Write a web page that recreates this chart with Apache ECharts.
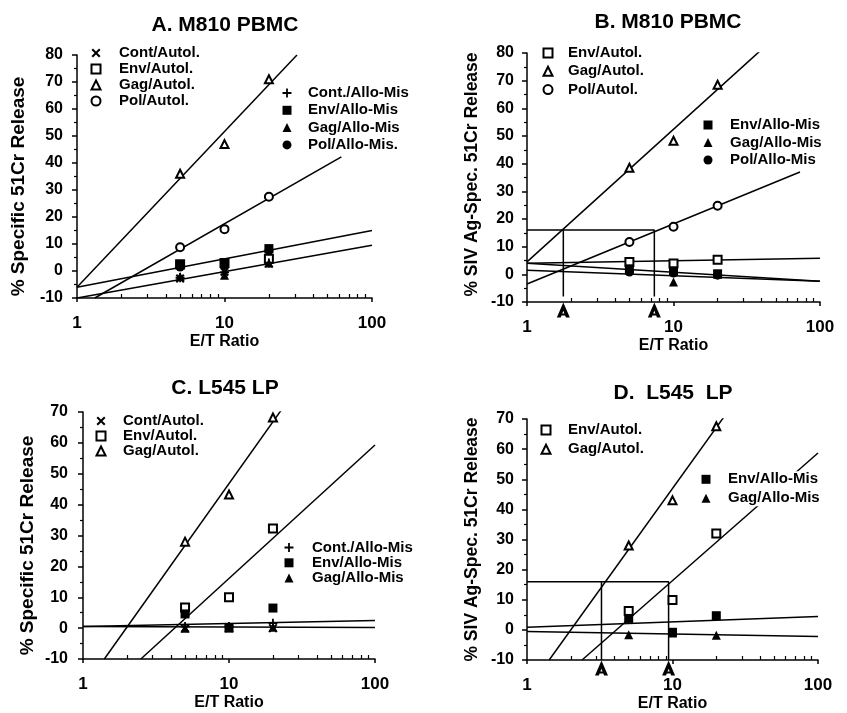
<!DOCTYPE html>
<html><head><meta charset="utf-8">
<script src="https://cdn.jsdelivr.net/npm/echarts@6/dist/echarts.min.js"></script>
<style>html,body{margin:0;padding:0;background:#fff}#c{width:847px;height:713px}</style>
</head><body><div id="c"></div>
<script>
// ---------- data ----------
const xRatios = [5, 10, 20];
const xMajorTicks = [1, 10, 100];
const xMinorTicks = [2,3,4,5,6,7,8,9,20,30,40,50,60,70,80,90];

const titles = ['A. M810 PBMC', 'B. M810 PBMC', 'C. L545 LP', 'D.  L545  LP'];
const yNameSpecific = '% Specific 51Cr Release';
const yNameSIV = '% SIV Ag-Spec. 51Cr Release';
const xName = 'E/T Ratio';

// Panel A
const A_contAutol = [-2.8, -0.3, 2.8];
const A_envAutol  = [2.5, 3.0, 4.5];
const A_gagAutol  = [36.0, 47.0, 71.0];
const A_polAutol  = [8.8, 15.5, 27.5];
const A_contAllo  = [-2.5, -0.5, 3.0];
const A_envAllo   = [2.2, 2.8, 8.3];
const A_gagAllo   = [-2.0, -1.6, 3.0];
const A_polAllo   = [1.5, 2.2, 7.5];
const A_fitGag  = [[1, -6], [31, 80]];
const A_fitPol  = [[1.32, -10], [62, 42.3]];
const A_fitEnv  = [[1, -6], [100, 15]];
const A_fitCont = [[1, -10], [100, 9.5]];

// Panel B
const B_envAutol = [4.5, 3.9, 5.3];
const B_gagAutol = [38.5, 48.3, 68.5];
const B_polAutol = [11.7, 17.2, 24.8];
const B_envAllo  = [2.0, 1.2, 0.2];
const B_gagAllo  = [1.5, -2.8, 0.0];
const B_polAllo  = [0.8, 0.5, -0.3];
const B_fitGag   = [[1, 4.5], [38.5, 80.5]];
const B_fitPol   = [[1, -3.5], [73, 37]];
const B_fitEnvAutol = [[1, 4], [100, 5.8]];
const B_fitEnvAllo  = [[1, 4], [100, -2.5]];
const B_fitPolAllo  = [[1, 1.5], [100, -2.5]];
const B_refLevel = 16;
const B_arrowX = [1.77, 7.4];
const B_refBottom = -8;

// Panel C
const C_contAutol = [0.0, 0.0, 0.0];
const C_envAutol  = [6.7, 10.0, 32.3];
const C_gagAutol  = [28.0, 43.3, 68.2];
const C_contAllo  = [0.5, 0.5, 1.6];
const C_envAllo   = [4.6, 0.0, 6.5];
const C_gagAllo   = [0.0, 0.3, 0.3];
const C_fitGag  = [[1.4, -10], [22.7, 70.5]];
const C_fitEnv  = [[2.49, -10], [100, 59.3]];
const C_fitFlat1 = [[1, 0.5], [100, 2.5]];
const C_fitFlat2 = [[1, 0.5], [100, 0.2]];

// Panel D
const D_envAutol = [6.3, 9.9, 32.0];
const D_gagAutol = [28.0, 43.0, 67.6];
const D_envAllo  = [3.8, -0.8, 4.7];
const D_gagAllo  = [-1.6, -1.0, -1.8];
const D_fitGag   = [[1.42, -10], [22.5, 70.6]];
const D_fitEnv   = [[2.39, -10], [100, 58.7]];
const D_fitEnvAllo = [[1, 0.9], [100, 4.4]];
const D_fitGagAllo = [[1, -0.5], [100, -2.2]];
const D_refLevel = 16;
const D_arrowX = [3.25, 9.4];
const D_refBottom = -10;

// ---------- styling ----------
const FONT = '"Liberation Sans", Arial, Helvetica, sans-serif';
const SYM_X = 'path://M0,1.6L1.6,0L5,3.4L8.4,0L10,1.6L6.6,5L10,8.4L8.4,10L5,6.6L1.6,10L0,8.4L3.4,5Z';
const SYM_PLUS = 'path://M4,0H6V4H10V6H6V10H4V6H0V4H4Z';
const SYM_ARROW = 'path://M6,0L12,14L8.4,14L6,7.8L3.6,14L0,14Z M2.8,10.2L9.2,10.2L9.2,12.2L2.8,12.2Z';

const grids = [
  {left: 77, top: 55, width: 295, height: 243},
  {left: 527, top: 53, width: 293, height: 249},
  {left: 83, top: 412, width: 292, height: 247},
  {left: 527, top: 419, width: 291, height: 246}
];
const yMax = [80, 80, 70, 70];
const yNames = [yNameSpecific, yNameSIV, yNameSpecific, yNameSIV];
const yNameSizes = [19, 17.5, 19, 17.5];
const yNameGaps = [49, 46, 46, 46];
const yNamePads = [[0, 20, 0, 0], [0, 0, 0, 6], [0, 20, 0, 0], [0, 0, 0, 0]];
const yLabelMargins = [14, 13, 15, 13];
const titlePos = [[225, 15], [668, 12], [225, 378], [673, 383]];

const xAxes = [], yAxes = [];
grids.forEach((g, i) => {
  xAxes.push({
    type: 'log', logBase: 10, gridIndex: i, min: 1, max: 100, position: 'bottom',
    name: xName, nameLocation: 'middle', nameGap: 36,
    nameTextStyle: {fontFamily: FONT, fontWeight: 'bold', fontSize: 16, color: '#000'},
    axisLine: {show: true, onZero: false, lineStyle: {color: '#000', width: 1.5}},
    axisTick: {show: true, inside: false, length: 4, lineStyle: {color: '#000', width: 1.5}, customValues: xMajorTicks},
    axisLabel: {show: true, margin: 17, fontFamily: FONT, fontWeight: 'bold', fontSize: 17, color: '#000', customValues: xMajorTicks},
    splitLine: {show: false}, minorTick: {show: false}
  });
  xAxes.push({
    type: 'log', logBase: 10, gridIndex: i, min: 1, max: 100, position: 'bottom',
    axisLine: {show: false, onZero: false},
    axisTick: {show: true, inside: true, length: 4, lineStyle: {color: '#000', width: 1.2}, customValues: xMinorTicks},
    axisLabel: {show: false}, splitLine: {show: false}
  });
  yAxes.push({
    type: 'value', gridIndex: i, min: -10, max: yMax[i], interval: 10,
    name: yNames[i], nameLocation: 'middle', nameGap: yNameGaps[i],
    nameTextStyle: {fontFamily: FONT, fontWeight: 'bold', fontSize: yNameSizes[i], color: '#000', padding: yNamePads[i]},
    axisLine: {show: true, onZero: false, lineStyle: {color: '#000', width: 1.5}},
    axisTick: {show: true, inside: false, length: 5, lineStyle: {color: '#000', width: 1.5}},
    minorTick: {show: true, splitNumber: 2, length: 3, lineStyle: {color: '#000', width: 1.2}},
    axisLabel: {margin: yLabelMargins[i], fontFamily: FONT, fontWeight: 'bold', fontSize: 16, color: '#000'},
    splitLine: {show: false}, minorSplitLine: {show: false}
  });
});

function pts(ys) { return xRatios.map((x, i) => [x, ys[i]]); }
function sc(name, g, ys, symbol) {
  const empty = symbol.indexOf('empty') === 0;
  return {
    type: 'scatter', name, xAxisIndex: g * 2, yAxisIndex: g, data: pts(ys),
    symbol, symbolSize: empty ? 8 : 9, z: 4,
    itemStyle: {color: '#000', borderColor: '#000', borderWidth: empty ? 2 : 0, opacity: 1},
    emphasis: {disabled: true}, silent: true
  };
}
function ln(g, data) {
  return {
    type: 'line', name: '_fit', xAxisIndex: g * 2, yAxisIndex: g, data,
    symbol: 'none', showSymbol: false, lineStyle: {color: '#000', width: 1.5}, z: 2,
    emphasis: {disabled: true}, silent: true, animation: false
  };
}
function arrows(g, xs) {
  return {
    type: 'scatter', name: '_arrow', xAxisIndex: g * 2, yAxisIndex: g,
    data: xs.map(x => [x, -10]), symbol: SYM_ARROW, symbolSize: [13, 15], symbolOffset: [0, 8],
    clip: false, itemStyle: {color: '#000', opacity: 1}, z: 5, silent: true
  };
}

const series = [
  // A
  ln(0, A_fitGag), ln(0, A_fitPol), ln(0, A_fitEnv), ln(0, A_fitCont),
  sc('Cont/Autol.', 0, A_contAutol, SYM_X),
  sc('Env/Autol.', 0, A_envAutol, 'emptyRect'),
  sc('Gag/Autol.', 0, A_gagAutol, 'emptyTriangle'),
  sc('Pol/Autol.', 0, A_polAutol, 'emptyCircle'),
  sc('Cont./Allo-Mis', 0, A_contAllo, SYM_PLUS),
  sc('Env/Allo-Mis', 0, A_envAllo, 'rect'),
  sc('Gag/Allo-Mis', 0, A_gagAllo, 'triangle'),
  sc('Pol/Allo-Mis.', 0, A_polAllo, 'circle'),
  // B
  ln(1, B_fitGag), ln(1, B_fitPol), ln(1, B_fitEnvAutol), ln(1, B_fitEnvAllo), ln(1, B_fitPolAllo),
  ln(1, [[1, B_refLevel], [B_arrowX[1], B_refLevel], [B_arrowX[1], B_refBottom]]),
  ln(1, [[B_arrowX[0], B_refLevel], [B_arrowX[0], B_refBottom]]),
  sc('Env/Autol.', 1, B_envAutol, 'emptyRect'),
  sc('Gag/Autol.', 1, B_gagAutol, 'emptyTriangle'),
  sc('Pol/Autol.', 1, B_polAutol, 'emptyCircle'),
  sc('Env/Allo-Mis', 1, B_envAllo, 'rect'),
  sc('Gag/Allo-Mis', 1, B_gagAllo, 'triangle'),
  sc('Pol/Allo-Mis', 1, B_polAllo, 'circle'),
  arrows(1, B_arrowX),
  // C
  ln(2, C_fitGag), ln(2, C_fitEnv), ln(2, C_fitFlat1), ln(2, C_fitFlat2),
  sc('Cont/Autol.', 2, C_contAutol, SYM_X),
  sc('Env/Autol.', 2, C_envAutol, 'emptyRect'),
  sc('Gag/Autol.', 2, C_gagAutol, 'emptyTriangle'),
  sc('Cont./Allo-Mis', 2, C_contAllo, SYM_PLUS),
  sc('Env/Allo-Mis', 2, C_envAllo, 'rect'),
  sc('Gag/Allo-Mis', 2, C_gagAllo, 'triangle'),
  // D
  ln(3, D_fitGag), ln(3, D_fitEnv), ln(3, D_fitEnvAllo), ln(3, D_fitGagAllo),
  ln(3, [[1, D_refLevel], [D_arrowX[1], D_refLevel], [D_arrowX[1], D_refBottom]]),
  ln(3, [[D_arrowX[0], D_refLevel], [D_arrowX[0], D_refBottom]]),
  sc('Env/Autol.', 3, D_envAutol, 'emptyRect'),
  sc('Gag/Autol.', 3, D_gagAutol, 'emptyTriangle'),
  sc('Env/Allo-Mis', 3, D_envAllo, 'rect'),
  sc('Gag/Allo-Mis', 3, D_gagAllo, 'triangle'),
  arrows(3, D_arrowX)
];

function legend(names, left, top, pad, lh, gap, bg) {
  return {
    data: names, orient: 'vertical', left, top, padding: 0, itemGap: gap,
    itemWidth: 9, itemHeight: 9, selectedMode: false, backgroundColor: bg || 'transparent',
    textStyle: {fontFamily: FONT, fontWeight: 'bold', fontSize: 15, color: '#000', lineHeight: lh, padding: [0, 0, 0, pad]}
  };
}
const legends = [
  legend(['Cont/Autol.', 'Env/Autol.', 'Gag/Autol.', 'Pol/Autol.'], 90.5, 45, 13.5, 16, 0),
  legend(['Cont./Allo-Mis', 'Env/Allo-Mis', 'Gag/Allo-Mis', 'Pol/Allo-Mis.'], 282.5, 85, 11.5, 16, 1.3),
  legend(['Env/Autol.', 'Gag/Autol.', 'Pol/Autol.'], 542.5, 45, 10.5, 16, 2.3),
  legend(['Env/Allo-Mis', 'Gag/Allo-Mis', 'Pol/Allo-Mis'], 703.5, 117, 12.5, 16, 1.5),
  legend(['Cont/Autol.', 'Env/Autol.', 'Gag/Autol.'], 95.5, 413.5, 12.5, 15, 0),
  legend(['Cont./Allo-Mis', 'Env/Allo-Mis', 'Gag/Allo-Mis'], 284.5, 540, 13.5, 15, 0.3),
  legend(['Env/Autol.', 'Gag/Autol.'], 540.5, 422, 12.5, 16, 3.3),
  legend(['Env/Allo-Mis', 'Gag/Allo-Mis'], 701.5, 471.3, 12.5, 16, 3, '#fff')
];

const chart = echarts.init(document.getElementById('c'), null, {renderer: 'canvas'});
chart.setOption({
  animation: false,
  backgroundColor: '#fff',
  title: titles.map((t, i) => ({
    text: t, left: titlePos[i][0], top: titlePos[i][1], textAlign: 'center', padding: 0,
    textStyle: {fontFamily: FONT, fontWeight: 'bold', fontSize: 21, color: '#000'}
  })),
  legend: legends,
  grid: grids,
  xAxis: xAxes,
  yAxis: yAxes,
  series
});
</script>
</body></html>
